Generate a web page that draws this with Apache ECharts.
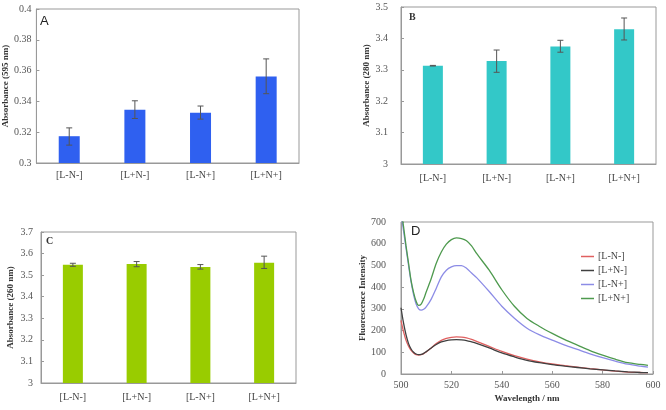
<!DOCTYPE html>
<html><head><meta charset="utf-8">
<script src="https://cdn.jsdelivr.net/npm/echarts@6/dist/echarts.min.js"></script>
<style>html,body{margin:0;padding:0;background:#fff}#c{width:666px;height:410px}</style>
</head><body><div id="c"></div>
<script>
const categories = ['[L-N-]', '[L+N-]', '[L-N+]', '[L+N+]'];
// Panel A: Absorbance (595 nm)
const aValues = [0.3174, 0.3346, 0.3326, 0.3561];
const aErrLow = [0.3116, 0.3289, 0.3285, 0.3450];
const aErrHigh = [0.3228, 0.3404, 0.3370, 0.3676];
// Panel B: Absorbance (280 nm)
const bValues = [3.313, 3.328, 3.374, 3.429];
const bErrLow = [3.312, 3.292, 3.356, 3.395];
const bErrHigh = [3.314, 3.363, 3.394, 3.465];
// Panel C: Absorbance (260 nm)
const cValues = [3.548, 3.552, 3.538, 3.558];
const cErrLow = [3.541, 3.539, 3.528, 3.531];
const cErrHigh = [3.555, 3.563, 3.549, 3.588];
// Panel D: fluorescence spectra
const wavelengths = [500,501,502,503,504,505,506,507,508,509,510,512,514,516,518,520,522,524,526,528,530,535,540,545,550,555,560,565,570,575,580,585,590,595,598];
const dLmNm = [247,195,155,128,109,97,89,87,89,94,101,120,140,155,164,169,171,170,166,159,150,127,104,85,69,56,46,39,32,25,19,13,9,7,6];
const dLpNm = [305,235,180,140,115,100,92,89,90,95,103,120,136,148,154,157,158,157,154,148,141,120,97,79,63,52,43,36,30,24,19,14,10,7,6];
const dLmNp = [740,660,580,500,425,365,322,300,294,298,309,345,395,447,478,493,499,499,487,465,444,380,312,257,211,180,156,133,113,93,75,59,45,36,32];
const dLpNp = [760,680,590,510,430,375,335,316,322,345,378,440,510,562,598,619,627,624,614,590,555,478,388,312,256,219,187,158,133,108,87,68,52,44,40];
const dNames = ['[L-N-]', '[L+N-]', '[L-N+]', '[L+N+]'];
const yTicksA = {min: 0.3, max: 0.4, interval: 0.02};
const yTicksB = {min: 3, max: 3.5, interval: 0.1};
const yTicksC = {min: 3, max: 3.7, interval: 0.1};
const yTicksD = {min: 0, max: 700, interval: 100};
const xTicksD = {min: 500, max: 600, interval: 20};

const serif = '"Liberation Serif", "DejaVu Serif", serif';
const sans = '"Liberation Sans", Arial, sans-serif';
const axisGrey = '#999';

function pairs(xs, ys) { return xs.map((x, i) => [x, ys[i]]); }
function errData(lo, hi) { return lo.map((l, i) => [i, l, hi[i]]); }

function renderErr(params, api) {
  const x = api.value(0);
  const lo = api.coord([x, api.value(1)]);
  const hi = api.coord([x, api.value(2)]);
  const w = 3;
  const st = {stroke: '#555', lineWidth: 1};
  return {type: 'group', children: [
    {type: 'line', shape: {x1: lo[0], y1: lo[1], x2: hi[0], y2: hi[1]}, style: st},
    {type: 'line', shape: {x1: hi[0]-w, y1: hi[1], x2: hi[0]+w, y2: hi[1]}, style: st},
    {type: 'line', shape: {x1: lo[0]-w, y1: lo[1], x2: lo[0]+w, y2: lo[1]}, style: st}
  ]};
}

function catAxis(gi, margin) {
  return {type: 'category', gridIndex: gi, data: categories,
    axisLine: {lineStyle: {color: axisGrey}}, axisTick: {show: false},
    axisLabel: {fontFamily: serif, fontSize: 10, color: '#444', margin: margin}};
}
function valAxis(gi, t, name, gap, margin) {
  return {type: 'value', gridIndex: gi, min: t.min, max: t.max, interval: t.interval,
    splitLine: {show: false},
    axisLine: {show: true, lineStyle: {color: axisGrey}},
    axisTick: {show: true, inside: true, length: 3, lineStyle: {color: axisGrey}},
    axisLabel: {fontFamily: serif, fontSize: 10, color: '#555', margin: margin},
    name: name, nameLocation: 'middle', nameGap: gap,
    nameTextStyle: {fontFamily: serif, fontSize: 9, fontWeight: 'bold', color: '#333'}};
}
const gridBase = {show: true, borderColor: axisGrey, borderWidth: 1, backgroundColor: '#fff'};

const option = {
  animation: false,
  backgroundColor: '#fff',
  grid: [
    Object.assign({left: 33, right: 367, top: 9, bottom: 247}, gridBase),
    Object.assign({left: 401, right: 10, top: 7, bottom: 246}, gridBase),
    Object.assign({left: 41, right: 370, top: 232, bottom: 27}, gridBase),
    Object.assign({left: 401, right: 13, top: 222, bottom: 36}, gridBase)
  ],
  xAxis: [
    catAxis(0, 7), catAxis(1, 9), catAxis(2, 9),
    {type: 'value', gridIndex: 3, min: xTicksD.min, max: xTicksD.max, interval: xTicksD.interval,
      splitLine: {show: false}, axisLine: {lineStyle: {color: axisGrey}},
      axisTick: {show: true, inside: true, length: 3, lineStyle: {color: axisGrey}},
      axisLabel: {fontFamily: serif, fontSize: 10, color: '#555', margin: 6},
      name: 'Wavelength / nm', nameLocation: 'middle', nameGap: 20,
      nameTextStyle: {fontFamily: serif, fontSize: 9, fontWeight: 'bold', color: '#333'}}
  ],
  yAxis: [
    valAxis(0, yTicksA, 'Absorbance (595 nm)', 26, 5),
    valAxis(1, yTicksB, 'Absorbance (280 nm)', 27, 13),
    valAxis(2, yTicksC, 'Absorbance (260 nm)', 26, 8),
    valAxis(3, yTicksD, 'Fluorescence Intensity', 30, 15)
  ],
  legend: {
    data: dNames, orient: 'vertical', left: 576, top: 246,
    icon: 'rect', itemWidth: 13, itemHeight: 1.5, itemGap: 3,
    textStyle: {fontFamily: serif, fontSize: 10, color: '#444', lineHeight: 11, padding: [0, 0, 0, -1]}
  },
  series: [
    {type: 'bar', xAxisIndex: 0, yAxisIndex: 0, data: aValues, barWidth: 21, itemStyle: {color: '#2f60f0'}},
    {type: 'custom', xAxisIndex: 0, yAxisIndex: 0, data: errData(aErrLow, aErrHigh), renderItem: renderErr, z: 5},
    {type: 'bar', xAxisIndex: 1, yAxisIndex: 1, data: bValues, barWidth: 20, itemStyle: {color: '#33c8c8'}},
    {type: 'custom', xAxisIndex: 1, yAxisIndex: 1, data: errData(bErrLow, bErrHigh), renderItem: renderErr, z: 5},
    {type: 'bar', xAxisIndex: 2, yAxisIndex: 2, data: cValues, barWidth: 20, itemStyle: {color: '#99cc00'}},
    {type: 'custom', xAxisIndex: 2, yAxisIndex: 2, data: errData(cErrLow, cErrHigh), renderItem: renderErr, z: 5},
    {type: 'line', name: dNames[0], xAxisIndex: 3, yAxisIndex: 3, data: pairs(wavelengths, dLmNm), showSymbol: false, smooth: 0.3, clip: true, lineStyle: {color: '#e06060', width: 1.3}, itemStyle: {color: '#e06060'}},
    {type: 'line', name: dNames[1], xAxisIndex: 3, yAxisIndex: 3, data: pairs(wavelengths, dLpNm), showSymbol: false, smooth: 0.3, clip: true, lineStyle: {color: '#404040', width: 1.3}, itemStyle: {color: '#404040'}},
    {type: 'line', name: dNames[2], xAxisIndex: 3, yAxisIndex: 3, data: pairs(wavelengths, dLmNp), showSymbol: false, smooth: 0.3, clip: true, lineStyle: {color: '#8c8ce6', width: 1.3}, itemStyle: {color: '#8c8ce6'}},
    {type: 'line', name: dNames[3], xAxisIndex: 3, yAxisIndex: 3, data: pairs(wavelengths, dLpNp), showSymbol: false, smooth: 0.3, clip: true, lineStyle: {color: '#4e9a4e', width: 1.3}, itemStyle: {color: '#4e9a4e'}}
  ],
  graphic: [
    {type: 'text', left: 40, top: 15, style: {text: 'A', font: '13px ' + sans, fill: '#222'}},
    {type: 'text', left: 409, top: 12, style: {text: 'B', font: 'bold 10px ' + serif, fill: '#333'}},
    {type: 'text', left: 46, top: 236, style: {text: 'C', font: 'bold 10px ' + serif, fill: '#333'}},
    {type: 'text', left: 411, top: 225, style: {text: 'D', font: '13px ' + sans, fill: '#222'}}
  ]
};
const chart = echarts.init(document.getElementById('c'), null, {renderer: 'canvas'});
chart.setOption(option);
</script></body></html>
